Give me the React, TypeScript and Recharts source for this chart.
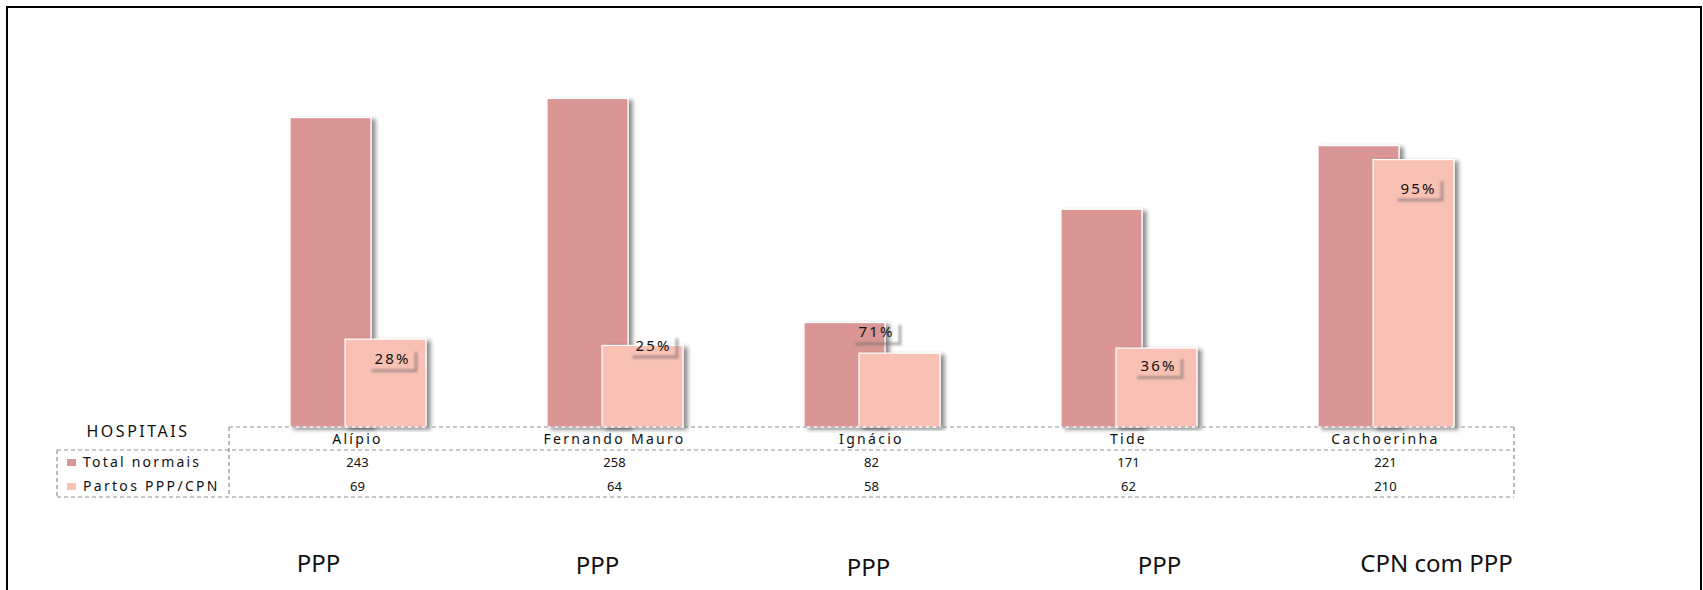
import { BarChart, Bar, XAxis, YAxis, LabelList } from "recharts";

const hospitais = ["Alípio", "Fernando Mauro", "Ignácio", "Tide", "Cachoerinha"];
const totalNormais = [243, 258, 82, 171, 221];
const partosPPP = [69, 64, 58, 62, 210];
const tipos = ["PPP", "PPP", "PPP", "PPP", "CPN com PPP"];

// hand-placed label offsets, like the original slide
const pctNudge = [
  { dx: 6, dy: 20 },
  { dx: 10, dy: 0 },
  { dx: -24, dy: -21 },
  { dx: 1, dy: 18 },
  { dx: 4, dy: 29 },
];
const tipoNudge = [
  { dx: -39, dy: 145 },
  { dx: -17, dy: 147 },
  { dx: -3, dy: 149 },
  { dx: 31, dy: 147 },
  { dx: 51, dy: 145 },
];

const DARK = "#D99694";
const LIGHT = "#F9C0B4";
const GRID = "#8f8f8f";

const W = 1703;
const H = 590;
const M = { top: 45, left: 229, right: 189, bottom: 13 };
const AXIS_H = 150;
const BASE_Y = H - M.bottom - AXIS_H;
const LEFT = M.left;
const RIGHT = W - M.right;

const data = hospitais.map((h, i) => ({
  hospital: h,
  total: totalNormais[i],
  partos: partosPPP[i],
  pct: Math.round((partosPPP[i] / totalNormais[i]) * 100),
}));

const sans = "'Noto Sans', 'Open Sans', sans-serif";

function barShape(fill: string) {
  return (p: any) => (
    <rect
      x={p.x}
      y={p.y}
      width={p.width}
      height={p.height}
      fill={fill}
      stroke="#fff"
      strokeWidth={1.2}
      filter="url(#barShadow)"
    />
  );
}

function PctLabel(props: any) {
  const vb = props.viewBox || props;
  const x = Number(props.x ?? vb.x);
  const y = Number(props.y ?? vb.y);
  const w = Number(props.width ?? vb.width);
  const n = pctNudge[props.index] || { dx: 0, dy: 0 };
  const cx = x + w / 2 + n.dx;
  const cy = y + n.dy;
  const bw = 46;
  const bh = 20;
  const bx = cx - bw / 2;
  const by = cy - bh / 2;
  const s = 3;
  const path = `M${bx + bw},${by + s} L${bx + bw + s},${by + s} L${bx + bw + s},${by + bh + s} L${bx + s},${by + bh + s} L${bx + s},${by + bh} L${bx + bw},${by + bh} Z`;
  return (
    <g>
      <path d={path} fill="#6e6e6e" opacity={0.55} filter="url(#softBlur)" />
      <text
        x={cx + 1}
        y={cy + 5}
        textAnchor="middle"
        fontFamily={sans}
        fontSize={15}
        letterSpacing={2.2}
        fill="#111"
      >
        {props.value}%
      </text>
    </g>
  );
}

function TableTick(props: any) {
  const { x, y } = props;
  const i = props.index ?? props.payload?.index ?? 0;
  const t = tipoNudge[i];
  return (
    <g>
      <text x={x} y={y + 17} textAnchor="middle" fontFamily={sans} fontSize={14} letterSpacing={2.3} fill="#111">
        {hospitais[i]}
      </text>
      <text x={x} y={y + 40} textAnchor="middle" fontFamily={sans} fontSize={13} fill="#111">
        {totalNormais[i]}
      </text>
      <text x={x} y={y + 64} textAnchor="middle" fontFamily={sans} fontSize={13} fill="#111">
        {partosPPP[i]}
      </text>
      <text x={x + t.dx} y={y + t.dy} textAnchor="middle" fontFamily={sans} fontSize={24} fill="#111">
        {tipos[i]}
      </text>
    </g>
  );
}

export default function App() {
  const dash = { stroke: GRID, strokeWidth: 1.2, strokeDasharray: "4 3", fill: "none" };
  return (
    <div style={{ position: "absolute", left: 0, top: 0, width: W, height: H, background: "#fff", overflow: "hidden" }}>
      <svg width={0} height={0} style={{ position: "absolute" }}>
        <defs>
          <filter id="barShadow" x="-20%" y="-5%" width="150%" height="110%">
            <feDropShadow dx="4" dy="2" stdDeviation="2" floodColor="#000" floodOpacity="0.45" />
          </filter>
          <filter id="softBlur" x="-20%" y="-50%" width="140%" height="200%">
            <feGaussianBlur stdDeviation="1.2" />
          </filter>
        </defs>
      </svg>
      <div style={{ position: "absolute", left: 0, top: 0 }}>
        <BarChart width={W} height={H} data={data} margin={M} barSize={81} barGap={-26}>
          <YAxis hide domain={[0, 300]} />
          <XAxis
            dataKey="hospital"
            height={AXIS_H}
            axisLine={false}
            tickLine={false}
            tickSize={0}
            tickMargin={0}
            interval={0}
            tick={(p: any) => <TableTick {...p} />}
          />
          <Bar dataKey="total" name="Total normais" fill={DARK} shape={barShape(DARK)} isAnimationActive={false} />
          <Bar dataKey="partos" name="Partos PPP/CPN" fill={LIGHT} shape={barShape(LIGHT)} isAnimationActive={false}>
            <LabelList dataKey="pct" content={(p: any) => <PctLabel {...p} />} />
          </Bar>
        </BarChart>
      </div>
      <svg width={W} height={H} style={{ position: "absolute", left: 0, top: 0, pointerEvents: "none" }}>
        <line x1={LEFT} y1={BASE_Y} x2={RIGHT} y2={BASE_Y} {...dash} />
        <line x1={57} y1={BASE_Y + 23} x2={RIGHT} y2={BASE_Y + 23} {...dash} />
        <line x1={57} y1={BASE_Y + 70} x2={RIGHT} y2={BASE_Y + 70} {...dash} />
        <line x1={57} y1={BASE_Y + 23} x2={57} y2={BASE_Y + 70} {...dash} />
        <line x1={LEFT} y1={BASE_Y} x2={LEFT} y2={BASE_Y + 70} {...dash} />
        <line x1={RIGHT} y1={BASE_Y} x2={RIGHT} y2={BASE_Y + 70} {...dash} />
        <text x={138} y={BASE_Y + 10} textAnchor="middle" fontFamily={sans} fontSize={16} letterSpacing={2.5} fill="#111">
          HOSPITAIS
        </text>
        <rect x={67} y={BASE_Y + 32} width={9} height={7} fill={DARK} />
        <text x={83} y={BASE_Y + 40} fontFamily={sans} fontSize={14} letterSpacing={2.2} fill="#111">
          Total normais
        </text>
        <rect x={67} y={BASE_Y + 56} width={9} height={7} fill={LIGHT} />
        <text x={83} y={BASE_Y + 64} fontFamily={sans} fontSize={14} letterSpacing={2.3} fill="#111">
          Partos PPP/CPN
        </text>
      </svg>
      <div
        style={{
          position: "absolute",
          left: 6,
          top: 6,
          width: 1696,
          height: 620,
          border: "2px solid #000",
          boxSizing: "border-box",
        }}
      />
    </div>
  );
}
